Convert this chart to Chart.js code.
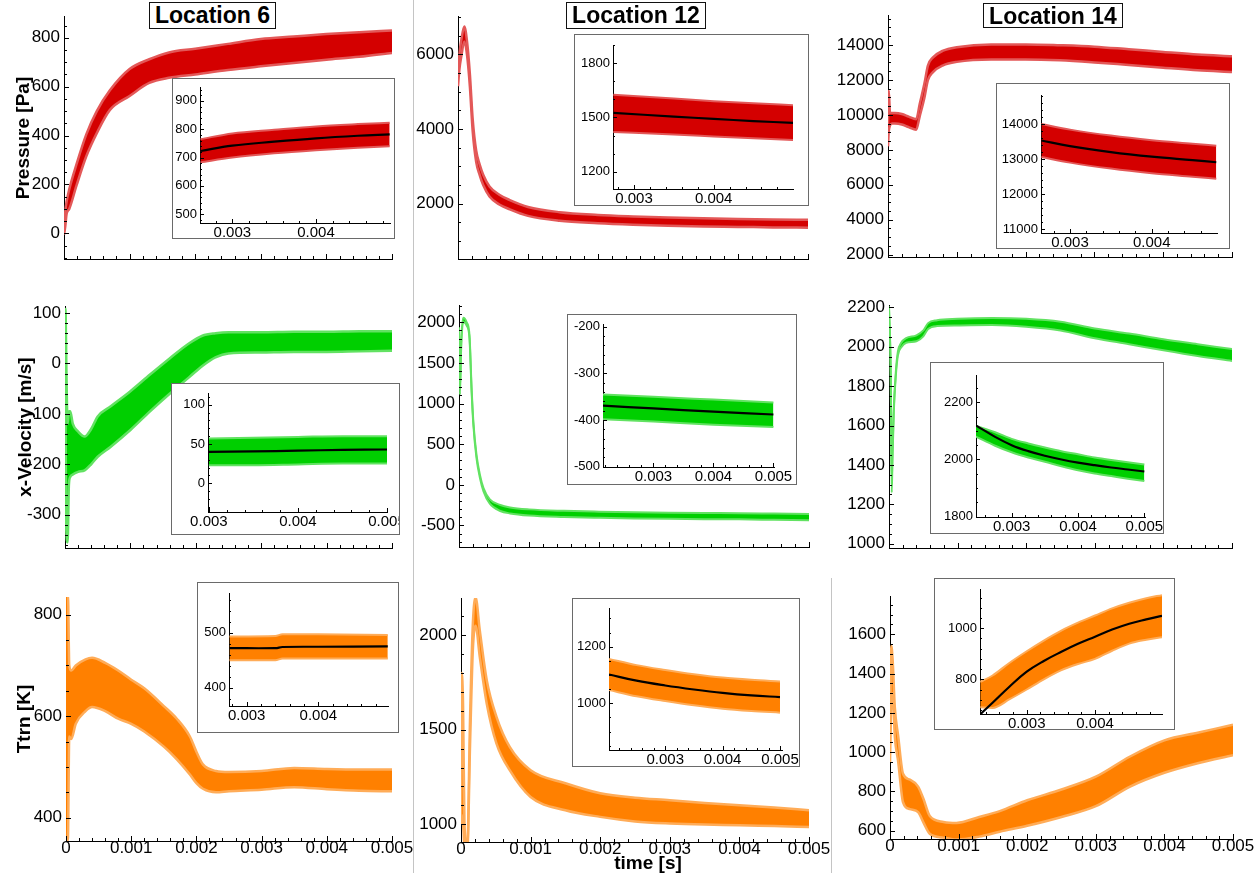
<!DOCTYPE html>
<html>
<head>
<meta charset="utf-8">
<script src="https://cdn.jsdelivr.net/npm/chart.js@4.4.1/dist/chart.umd.min.js"></script>
<style>
  html, body { margin: 0; padding: 0; background: #fff; }
  body { width: 1260px; height: 873px; position: relative; overflow: hidden; font-family: 'Liberation Sans', Arial, sans-serif; }
  canvas { position: absolute; }
  .inset { position: absolute; box-sizing: border-box; border: 1px solid #6a6a6a; background: #fff; overflow: hidden; }
  .loc { position: absolute; box-sizing: border-box; border: 1px solid #111; background: #fff;
         font: bold 23px 'Liberation Sans', Arial, sans-serif; text-align: center; line-height: 24px; color: #000; }
  .ytitle { position: absolute; font: bold 19px 'Liberation Sans', Arial, sans-serif; white-space: nowrap; color: #000;
            transform: translate(-50%, -50%) rotate(-90deg); line-height: 19px; }
  .sep { position: absolute; width: 1px; background: #c4c4c4; }
  #tlabel { position: absolute; left: 648px; top: 853px; transform: translateX(-50%); font: bold 19px 'Liberation Sans', Arial, sans-serif; line-height: 19px; white-space: nowrap; }
</style>
</head>
<body>
<script>
// ---------------- Time histories (envelope of the fluctuating signal) ----------------
// Location 6
const loc6PressT  = [0, 0.00002, 0.00004, 0.00008, 0.00019, 0.00034, 0.0005, 0.0007, 0.001, 0.0013, 0.0016, 0.002, 0.0025, 0.003, 0.0035, 0.004, 0.0045, 0.005];
const loc6PressLo = [-5, 30, 80, 100, 195, 315, 410, 505, 562, 615, 636, 650, 668, 683, 697, 710, 722, 738];
const loc6PressHi = [5, 90, 130, 180, 282, 405, 500, 585, 672, 712, 740, 755, 775, 795, 805, 815, 823, 830];

const loc6VelT  = [0, 0.00001, 0.00002, 0.00004, 0.00006, 0.00008, 0.00012, 0.0002, 0.0003, 0.0004, 0.0005, 0.0007, 0.001, 0.0013, 0.0016, 0.0019, 0.0021, 0.0023, 0.0025, 0.003, 0.0035, 0.004, 0.0045, 0.005];
const loc6VelLo = [40, -150, -330, -355, -240, -225, -220, -215, -212, -200, -185, -165, -132, -95, -60, -27, -5, 12, 20, 22, 23, 23, 24, 25];
const loc6VelHi = [110, 100, 0, -120, -95, -95, -120, -135, -145, -130, -105, -85, -55, -22, 10, 40, 55, 60, 62, 62, 63, 63, 64, 64];

const loc6TempT  = [0, 0.00003, 0.00005, 0.00008, 0.00015, 0.0003, 0.0004, 0.0006, 0.0008, 0.001, 0.0012, 0.0015, 0.0017, 0.0019, 0.002, 0.0021, 0.0023, 0.0025, 0.003, 0.0035, 0.004, 0.0045, 0.005];
const loc6TempLo = [350, 360, 560, 555, 585, 610, 618, 610, 595, 585, 570, 540, 515, 485, 468, 457, 450, 452, 455, 460, 456, 453, 452];
const loc6TempHi = [840, 840, 700, 690, 700, 712, 715, 705, 690, 672, 655, 620, 595, 560, 530, 505, 492, 490, 492, 498, 496, 495, 495];

// Location 12
const loc12PressT  = [0, 0.00002, 0.00005, 0.00009, 0.00013, 0.00017, 0.00021, 0.00026, 0.00031, 0.00036, 0.00045, 0.00059, 0.00074, 0.001, 0.00145, 0.002, 0.0025, 0.003, 0.0035, 0.004, 0.0045, 0.005];
const loc12PressLo = [5150, 5600, 5980, 6350, 5970, 5130, 3940, 3120, 2770, 2500, 2195, 1980, 1850, 1675, 1545, 1480, 1440, 1410, 1390, 1380, 1367, 1360];
const loc12PressHi = [5450, 6000, 6420, 6750, 6330, 5470, 4260, 3420, 3050, 2780, 2465, 2240, 2100, 1915, 1775, 1700, 1660, 1630, 1610, 1590, 1577, 1570];

const loc12VelT  = [0, 0.000014, 0.00003, 0.00006, 0.00011, 0.00015, 0.00018, 0.000205, 0.00025, 0.0003, 0.00035, 0.00044, 0.00059, 0.00073, 0.001, 0.0015, 0.002, 0.0025, 0.003, 0.0035, 0.004, 0.0045, 0.005];
const loc12VelLo = [1860, 1110, 1660, 2005, 1960, 1800, 1150, 740, 330, 80, -80, -232, -322, -352, -378, -396, -406, -413, -418, -422, -425, -430, -435];
const loc12VelHi = [1940, 1190, 1740, 2055, 2000, 1840, 1190, 780, 370, 120, -40, -178, -248, -278, -302, -320, -330, -337, -342, -346, -349, -354, -359];

const loc12TempT  = [0, 0.00001, 0.00003, 0.00005, 0.00009, 0.00013, 0.00017, 0.00021, 0.00027, 0.00037, 0.00051, 0.0007, 0.001, 0.0015, 0.002, 0.0025, 0.003, 0.0035, 0.004, 0.0045, 0.005];
const loc12TempLo = [1000, 1050, 1000, 880, 850, 1420, 1920, 2050, 1885, 1638, 1427, 1286, 1144, 1074, 1039, 1015, 1004, 998, 995, 990, 986];
const loc12TempHi = [1050, 1800, 1620, 1000, 880, 1560, 2060, 2200, 2026, 1762, 1568, 1409, 1286, 1217, 1164, 1140, 1127, 1112, 1100, 1088, 1074];

// Location 14
const loc14PressT  = [0, 0.00001, 0.00003, 0.00006, 0.0001, 0.0002, 0.0003, 0.00041, 0.00046, 0.00053, 0.00058, 0.00065, 0.0008, 0.001, 0.0015, 0.002, 0.0025, 0.003, 0.0035, 0.004, 0.0045, 0.005];
const loc14PressLo = [8200, 9000, 9400, 9500, 9500, 9450, 9300, 9150, 9900, 11000, 11980, 12430, 12830, 13030, 13170, 13170, 13120, 13000, 12850, 12700, 12550, 12450];
const loc14PressHi = [9400, 11400, 10100, 10100, 10100, 10050, 9900, 9750, 10600, 11800, 12820, 13270, 13670, 13870, 14030, 14030, 13980, 13900, 13750, 13600, 13450, 13350];

const loc14VelT  = [0, 0.000025, 0.00004, 0.00005, 0.00007, 0.0001, 0.00013, 0.00018, 0.00025, 0.0004, 0.0005, 0.00057, 0.0007, 0.001, 0.0015, 0.002, 0.0025, 0.003, 0.0035, 0.004, 0.0045, 0.005];
const loc14VelLo = [2195, 1855, 1260, 1420, 1670, 1855, 1956, 1997, 2020, 2028, 2053, 2090, 2105, 2108, 2110, 2102, 2083, 2043, 2013, 1982, 1953, 1928];
const loc14VelHi = [2205, 1875, 1300, 1460, 1690, 1875, 1976, 2021, 2044, 2058, 2083, 2120, 2135, 2142, 2146, 2142, 2127, 2093, 2067, 2038, 2013, 1988];

const loc14TempT  = [0, 0.00002, 0.00004, 0.00007, 0.00012, 0.00019, 0.00029, 0.00041, 0.00049, 0.00058, 0.00078, 0.00097, 0.0013, 0.0016, 0.002, 0.0025, 0.003, 0.0035, 0.004, 0.0045, 0.005];
const loc14TempLo = [950, 1250, 1300, 1080, 950, 745, 710, 695, 640, 585, 565, 555, 570, 595, 625, 670, 725, 825, 895, 945, 985];
const loc14TempHi = [1100, 1540, 1460, 1230, 1080, 890, 860, 825, 760, 675, 645, 640, 670, 700, 755, 810, 875, 978, 1060, 1100, 1140];

// ---------------- Late-time close-ups with running mean ----------------
const loc6PressZoomT    = [0.00262, 0.003, 0.0035, 0.004, 0.0045, 0.00488];
const loc6PressZoomLo   = [683, 700, 715, 726, 735, 740];
const loc6PressZoomHi   = [765, 785, 798, 810, 818, 823];
const loc6PressZoomMean = [723, 742, 756, 768, 777, 782];

const loc12PressZoomT    = [0.00274, 0.0035, 0.004, 0.0045, 0.005];
const loc12PressZoomLo   = [1420, 1405, 1395, 1385, 1375];
const loc12PressZoomHi   = [1625, 1605, 1590, 1578, 1568];
const loc12PressZoomMean = [1525, 1505, 1492, 1480, 1470];

const loc14PressZoomT    = [0.00265, 0.003, 0.0035, 0.004, 0.0045, 0.00479];
const loc14PressZoomLo   = [13060, 12900, 12730, 12600, 12500, 12440];
const loc14PressZoomHi   = [14000, 13840, 13670, 13540, 13440, 13380];
const loc14PressZoomMean = [13530, 13370, 13200, 13070, 12970, 12910];

const loc6VelZoomT    = [0.003, 0.0035, 0.004, 0.0045, 0.005];
const loc6VelZoomLo   = [23, 23, 24, 25, 25];
const loc6VelZoomHi   = [57, 58, 59, 60, 60];
const loc6VelZoomMean = [40, 40.5, 41.5, 42.5, 43];

const loc12VelZoomT    = [0.00216, 0.003, 0.004, 0.005];
const loc12VelZoomLo   = [-398, -403, -410, -415];
const loc12VelZoomHi   = [-345, -350, -356, -362];
const loc12VelZoomMean = [-369, -375, -382, -388];

const loc14VelZoomT    = [0.00246, 0.00275, 0.003, 0.00325, 0.0035, 0.00375, 0.004, 0.00425, 0.0045, 0.00475, 0.005];
const loc14VelZoomLo   = [2080, 2048, 2025, 2007, 1992, 1976, 1962, 1951, 1942, 1933, 1925];
const loc14VelZoomHi   = [2118, 2095, 2072, 2056, 2042, 2029, 2018, 2007, 1998, 1990, 1982];
const loc14VelZoomMean = [2119, 2079, 2050, 2029, 2013, 2000, 1989, 1980, 1972, 1965, 1958];

const loc6TempZoomT    = [0.00276, 0.0034, 0.0035, 0.004, 0.00497];
const loc6TempZoomLo   = [450, 450, 453, 453, 453];
const loc6TempZoomHi   = [493, 494, 497, 497, 496];
const loc6TempZoomMean = [472, 472, 474, 474.5, 475];

const loc12TempZoomT    = [0.00202, 0.0025, 0.003, 0.0035, 0.004, 0.0045, 0.005];
const loc12TempZoomLo   = [1047, 1025, 1008, 993, 981, 973, 967];
const loc12TempZoomHi   = [1157, 1135, 1118, 1103, 1091, 1083, 1077];
const loc12TempZoomMean = [1102, 1080, 1063, 1049, 1037, 1028, 1022];

const loc14TempZoomT    = [0.00232, 0.0025, 0.00275, 0.003, 0.00325, 0.0035, 0.00375, 0.004, 0.00425, 0.0045, 0.00475, 0.00498];
const loc14TempZoomLo   = [690, 688, 722, 760, 800, 835, 860, 880, 912, 940, 955, 965];
const loc14TempZoomHi   = [790, 815, 865, 910, 952, 990, 1022, 1050, 1078, 1100, 1118, 1130];
const loc14TempZoomMean = [663, 708, 772, 830, 872, 907, 939, 967, 995, 1018, 1035, 1049];

// ---------------- Styling ----------------
const FONT = "'Liberation Sans', Arial, Helvetica, sans-serif";
const RED = '#d40000', RED_EDGE = '#e35858';
const GREEN = '#00cf00', GREEN_EDGE = '#62e262';
const ORANGE = '#ff8000', ORANGE_EDGE = '#ffac58';

const pts = (t, v) => t.map((x, i) => ({ x, y: v[i] }));
const isMult = (v, step) => { const q = v / step; return Math.abs(q - Math.round(q)) < 1e-6; };
const fmtInt = v => String(Math.round(v));
const fmtTime = v => Math.abs(v) < 1e-12 ? '0' : v.toFixed(3);

function stepsWithin(min, max, step) {
  const out = [];
  for (let k = Math.ceil(min / step - 1e-9); k * step <= max + step * 1e-9; k++) out.push(+(k * step).toFixed(10));
  return out;
}

function band(t, lo, hi, color, edge, w) {
  const common = { pointRadius: 0, borderWidth: w, borderColor: edge, cubicInterpolationMode: 'monotone', clip: 0 };
  return [
    Object.assign({ data: pts(t, lo), fill: false, order: 2 }, common),
    Object.assign({ data: pts(t, hi), fill: '-1', backgroundColor: color, order: 3 }, common)
  ];
}
// running mean drawn on top of the band
function meanLine(t, v) {
  return { data: pts(t, v), borderColor: '#000', borderWidth: 2.2, pointRadius: 0, fill: false, order: 0,
           tension: 0.4, clip: 0 };
}

// inward major/minor tick marks on the two axes
Chart.register({
  id: 'innerTicks',
  afterDraw(chart, args, o) {
    if (!o || !o.xMajor) return;
    const { ctx, chartArea: a } = chart;
    ctx.save();
    ctx.strokeStyle = '#000';
    ctx.lineWidth = 1;
    [['x', o.xMajor], ['y', o.yMajor]].forEach(([id, major]) => {
      const s = chart.scales[id];
      s.ticks.forEach(tk => {
        const len = isMult(tk.value, major) ? o.big : o.small;
        const p = Math.round(s.getPixelForValue(tk.value)) + 0.5;
        ctx.beginPath();
        if (id === 'x') { ctx.moveTo(p, a.bottom); ctx.lineTo(p, a.bottom - len); }
        else { ctx.moveTo(a.left, p); ctx.lineTo(a.left + len, p); }
        ctx.stroke();
      });
    });
    ctx.restore();
  }
});

function plot(host, hostX, hostY, area, cfg) {
  const { yw, pt, pr, xh } = cfg.pad;
  const w = area.r - area.l + yw + pr, h = area.b - area.t + pt + xh;
  const cv = document.createElement('canvas');
  cv.width = w; cv.height = h;
  Object.assign(cv.style, { left: (area.l - yw - hostX) + 'px', top: (area.t - pt - hostY) + 'px', width: w + 'px', height: h + 'px' });
  host.appendChild(cv);
  const axis = (a, isX) => ({
    type: 'linear', bounds: 'data', min: a.min, max: a.max,
    grid: { display: false, drawTicks: false },
    border: { display: true, color: '#000', width: 1 },
    afterBuildTicks: s => { s.ticks = stepsWithin(a.min, a.max, a.minor).map(value => ({ value })); },
    afterFit: s => {
      if (isX) s.height = xh; else s.width = yw;
      s.paddingLeft = 0; s.paddingRight = 0; s.paddingTop = 0; s.paddingBottom = 0;
    },
    ticks: {
      display: a.labels !== false, autoSkip: false, maxRotation: 0, minRotation: 0,
      padding: a.pad, color: '#000', font: { family: FONT, size: a.size },
      callback: v => isMult(v, a.major) ? a.fmt(v) : ''
    }
  });
  return new Chart(cv, {
    type: 'line',
    data: { datasets: cfg.datasets },
    options: {
      responsive: false, animation: false, devicePixelRatio: 1, events: [],
      layout: { autoPadding: false, padding: { left: 0, top: pt, right: pr, bottom: 0 } },
      plugins: {
        legend: { display: false }, tooltip: { enabled: false },
        innerTicks: { xMajor: cfg.x.major, yMajor: cfg.y.major, big: cfg.tick[0], small: cfg.tick[1] }
      },
      scales: { x: axis(cfg.x, true), y: axis(cfg.y, false) }
    }
  });
}

// ---------------- Main panels ----------------
const body = document.body;
const mainX = bottom => ({ min: 0, max: 0.005, major: 0.001, minor: 0.0002, fmt: fmtTime, size: 17, pad: -3, labels: bottom });
const mainY = (min, max, major, minor) => ({ min, max, major, minor, fmt: fmtInt, size: 17, pad: 4 });
const PAD_TOP = { yw: 60, pt: 12, pr: 24, xh: 6 };
const PAD_BOT = { yw: 60, pt: 12, pr: 24, xh: 26 };

const mains = [
  { area: { l: 64, t: 16, r: 392, b: 259 }, y: mainY(-105, 889, 200, 50), bottom: false, sets: band(loc6PressT, loc6PressLo, loc6PressHi, RED, RED_EDGE, 2.5) },
  { area: { l: 458, t: 16, r: 808, b: 259 }, y: mainY(520, 7030, 2000, 500), bottom: false, sets: band(loc12PressT, loc12PressLo, loc12PressHi, RED, RED_EDGE, 2.5) },
  { area: { l: 888, t: 15, r: 1232, b: 257 }, y: mainY(1870, 15710, 2000, 500), bottom: false, sets: band(loc14PressT, loc14PressLo, loc14PressHi, RED, RED_EDGE, 2.5) },
  { area: { l: 65, t: 306, r: 392, b: 548 }, y: mainY(-366, 114, 100, 20), bottom: false, sets: band(loc6VelT, loc6VelLo, loc6VelHi, GREEN, GREEN_EDGE, 2.5) },
  { area: { l: 459, t: 305, r: 809, b: 547 }, y: mainY(-765, 2213, 500, 100), bottom: false, sets: band(loc12VelT, loc12VelLo, loc12VelHi, GREEN, GREEN_EDGE, 2) },
  { area: { l: 889, t: 305, r: 1232, b: 548 }, y: mainY(978, 2212, 200, 50), bottom: false, sets: band(loc14VelT, loc14VelLo, loc14VelHi, GREEN, GREEN_EDGE, 2) },
  { area: { l: 66, t: 597, r: 392, b: 841 }, y: mainY(354, 835, 200, 50), bottom: true, sets: band(loc6TempT, loc6TempLo, loc6TempHi, ORANGE, ORANGE_EDGE, 2.5) },
  { area: { l: 461, t: 598, r: 809, b: 842 }, y: mainY(906, 2197, 500, 100), bottom: true, sets: band(loc12TempT, loc12TempLo, loc12TempHi, ORANGE, ORANGE_EDGE, 2.5) },
  { area: { l: 890, t: 596, r: 1233, b: 839 }, y: mainY(558, 1795, 200, 50), bottom: true, sets: band(loc14TempT, loc14TempLo, loc14TempHi, ORANGE, ORANGE_EDGE, 2.5) }
];
mains.forEach(m => plot(body, 0, 0, m.area, {
  pad: m.bottom ? PAD_BOT : PAD_TOP, x: mainX(m.bottom), y: m.y, tick: [5, 3], datasets: m.sets
}));

// ---------------- Inset close-ups ----------------
const insetX = (min, max) => ({ min, max, major: 0.001, minor: 0.0002, fmt: fmtTime, size: 15, pad: 1 });
const insetY = (min, max, major, minor) => ({ min, max, major, minor, fmt: fmtInt, size: 13, pad: 3 });
const PAD_INSET = { yw: 44, pt: 8, pr: 30, xh: 22 };

const insets = [
  { box: { l: 172, t: 78, r: 395, b: 239 }, area: { l: 200, t: 87, r: 390, b: 223 }, x: insetX(0.002614, 0.004884), y: insetY(469, 949, 100, 20),
    sets: [...band(loc6PressZoomT, loc6PressZoomLo, loc6PressZoomHi, RED, RED_EDGE, 2), meanLine(loc6PressZoomT, loc6PressZoomMean)] },
  { box: { l: 574, t: 34, r: 809, b: 206 }, area: { l: 613, t: 45, r: 793, b: 189 }, x: insetX(0.002736, 0.004996), y: insetY(1104, 1901, 300, 100),
    sets: [...band(loc12PressZoomT, loc12PressZoomLo, loc12PressZoomHi, RED, RED_EDGE, 2), meanLine(loc12PressZoomT, loc12PressZoomMean)] },
  { box: { l: 996, t: 83, r: 1230, b: 249 }, area: { l: 1041, t: 95, r: 1217, b: 233 }, x: insetX(0.002645, 0.004799), y: insetY(10895, 14826, 1000, 200),
    sets: [...band(loc14PressZoomT, loc14PressZoomLo, loc14PressZoomHi, RED, RED_EDGE, 2), meanLine(loc14PressZoomT, loc14PressZoomMean)] },
  { box: { l: 171, t: 383, r: 400, b: 535 }, area: { l: 208, t: 393, r: 387, b: 512 }, x: insetX(0.00299, 0.005), y: insetY(-36.7, 115, 50, 10),
    sets: [...band(loc6VelZoomT, loc6VelZoomLo, loc6VelZoomHi, GREEN, GREEN_EDGE, 2), meanLine(loc6VelZoomT, loc6VelZoomMean)] },
  { box: { l: 567, t: 314, r: 797, b: 485 }, area: { l: 603, t: 324, r: 774, b: 467 }, x: insetX(0.00216, 0.00501), y: insetY(-500.5, -194, 100, 20),
    sets: [...band(loc12VelZoomT, loc12VelZoomLo, loc12VelZoomHi, GREEN, GREEN_EDGE, 2), meanLine(loc12VelZoomT, loc12VelZoomMean)] },
  { box: { l: 930, t: 362, r: 1164, b: 534 }, area: { l: 976, t: 375, r: 1145, b: 517 }, x: insetX(0.002462, 0.00501), y: insetY(1799, 2295, 200, 50),
    sets: [...band(loc14VelZoomT, loc14VelZoomLo, loc14VelZoomHi, GREEN, GREEN_EDGE, 2), meanLine(loc14VelZoomT, loc14VelZoomMean)] },
  { box: { l: 197, t: 582, r: 399, b: 733 }, area: { l: 229, t: 593, r: 388, b: 706 }, x: insetX(0.002753, 0.004973), y: insetY(367, 572, 100, 20),
    sets: [...band(loc6TempZoomT, loc6TempZoomLo, loc6TempZoomHi, ORANGE, ORANGE_EDGE, 2), meanLine(loc6TempZoomT, loc6TempZoomMean)] },
  { box: { l: 572, t: 598, r: 800, b: 767 }, area: { l: 609, t: 608, r: 782, b: 750 }, x: insetX(0.00202, 0.005035), y: insetY(835, 1337, 200, 50),
    sets: [...band(loc12TempZoomT, loc12TempZoomLo, loc12TempZoomHi, ORANGE, ORANGE_EDGE, 2), meanLine(loc12TempZoomT, loc12TempZoomMean)] },
  { box: { l: 934, t: 578, r: 1175, b: 730 }, area: { l: 980, t: 589, r: 1162, b: 714 }, x: insetX(0.002316, 0.00498), y: insetY(664, 1154, 200, 40),
    sets: [...band(loc14TempZoomT, loc14TempZoomLo, loc14TempZoomHi, ORANGE, ORANGE_EDGE, 2), meanLine(loc14TempZoomT, loc14TempZoomMean)] }
];
insets.forEach(s => {
  const div = document.createElement('div');
  div.className = 'inset';
  Object.assign(div.style, { left: s.box.l + 'px', top: s.box.t + 'px', width: (s.box.r - s.box.l) + 'px', height: (s.box.b - s.box.t) + 'px' });
  body.appendChild(div);
  plot(div, s.box.l + 1, s.box.t + 1, s.area, { pad: PAD_INSET, x: s.x, y: s.y, tick: [4, 2], datasets: s.sets });
});

// ---------------- Titles, axis names, panel separators ----------------
const html = `
  <div class="loc" style="left:149px;top:2px;width:127px;height:27px">Location 6</div>
  <div class="loc" style="left:566px;top:2px;width:140px;height:27px">Location 12</div>
  <div class="loc" style="left:983px;top:3px;width:140px;height:25px">Location 14</div>
  <div class="ytitle" style="left:22px;top:138px">Pressure [Pa]</div>
  <div class="ytitle" style="left:24px;top:427px">x-Velocity [m/s]</div>
  <div class="ytitle" style="left:23px;top:719px">Ttrn [K]</div>
  <div id="tlabel">time [s]</div>
  <div class="sep" style="left:413px;top:0;height:873px"></div>
  <div class="sep" style="left:831px;top:578px;height:295px"></div>`;
body.insertAdjacentHTML('beforeend', html);
</script>
</body>
</html>
